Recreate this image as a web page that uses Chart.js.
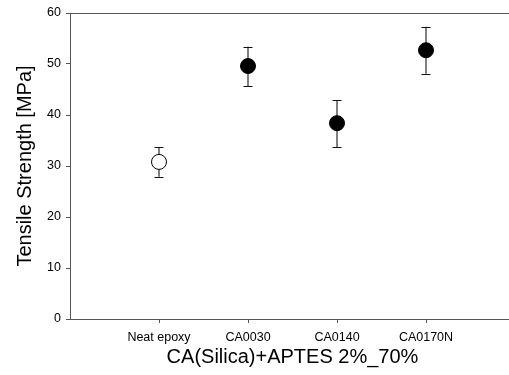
<!DOCTYPE html>
<html lang="en">
<head>
    <meta charset="UTF-8">
    <title>Tensile Strength</title>
    <script src="https://cdn.jsdelivr.net/npm/chart.js@4.4.1/dist/chart.umd.min.js"></script>
    <style>
        body { margin: 0; overflow: hidden; background: #fff; }
    </style>
</head>
<body>
    <canvas id="chart" width="515" height="375"></canvas>

    <script>
        const categories = ['Neat epoxy', 'CA0030', 'CA0140', 'CA0170N'];
        const strength = [30.8, 49.6, 38.4, 52.7];
        const errLow = [27.9, 45.7, 33.7, 48.1];
        const errHigh = [33.7, 53.4, 42.9, 57.3];
        const yTicks = [0, 10, 20, 30, 40, 50, 60];

        const axisColor = '#555';
        const font = 'Arial, "Liberation Sans", sans-serif';

        // vertical error bars, drawn under the markers
        const errorBars = {
            id: 'errorBars',
            beforeDatasetsDraw(chart) {
                const ctx = chart.ctx;
                const xs = chart.scales.x;
                const ys = chart.scales.y;
                ctx.save();
                categories.forEach((c, i) => {
                    const px = xs.getPixelForValue(i + 1);
                    const top = ys.getPixelForValue(errHigh[i]);
                    const bot = ys.getPixelForValue(errLow[i]);
                    ctx.strokeStyle = '#555';
                    ctx.lineWidth = 1.5;
                    ctx.beginPath();
                    ctx.moveTo(px, top);
                    ctx.lineTo(px, bot);
                    ctx.stroke();
                    ctx.strokeStyle = '#111';
                    ctx.lineWidth = 1;
                    ctx.beginPath();
                    ctx.moveTo(px - 4.5, Math.round(top) + 0.5);
                    ctx.lineTo(px + 4.5, Math.round(top) + 0.5);
                    ctx.moveTo(px - 4.5, Math.round(bot) + 0.5);
                    ctx.lineTo(px + 4.5, Math.round(bot) + 0.5);
                    ctx.stroke();
                });
                ctx.restore();
            }
        };

        // keep the horizontal axes from reserving room for edge labels
        const noSidePad = s => { s.paddingLeft = 0; s.paddingRight = 0; };

        new Chart(document.getElementById('chart'), {
            type: 'scatter',
            data: {
                datasets: [{
                    data: strength.map((v, i) => ({ x: i + 1, y: v })),
                    pointRadius: 7.5,
                    pointHoverRadius: 7.5,
                    pointBorderWidth: 1,
                    pointBorderColor: '#000',
                    pointBackgroundColor: strength.map((v, i) => i === 0 ? '#fff' : '#000')
                }]
            },
            options: {
                responsive: false,
                animation: false,
                layout: { autoPadding: false, padding: { top: 13, left: 0, right: 0, bottom: 0 } },
                plugins: {
                    legend: { display: false },
                    tooltip: { enabled: false }
                },
                scales: {
                    x: {
                        type: 'linear',
                        min: 0,
                        max: 5,
                        afterBuildTicks: s => { s.ticks = categories.map((c, i) => ({ value: i + 1 })); },
                        afterFit: s => { s.height = 56; noSidePad(s); },
                        grid: { drawOnChartArea: false, tickLength: 4, color: axisColor },
                        border: { color: axisColor, width: 1 },
                        ticks: {
                            autoSkip: false,
                            maxRotation: 0,
                            padding: 7,
                            color: '#000',
                            font: { family: font, size: 12.5 },
                            callback: v => categories[v - 1]
                        },
                        title: {
                            display: true,
                            text: 'CA(Silica)+APTES 2%_70%',
                            color: '#000',
                            font: { family: font, size: 20 },
                            padding: { top: 6, bottom: 6 }
                        }
                    },
                    x2: {
                        type: 'linear',
                        position: 'top',
                        min: 0,
                        max: 5,
                        afterFit: s => { s.height = 0; noSidePad(s); },
                        grid: { display: false },
                        border: { color: axisColor, width: 1 },
                        ticks: { display: false }
                    },
                    y: {
                        min: 0,
                        max: 60,
                        afterBuildTicks: s => { s.ticks = yTicks.map(v => ({ value: v })); },
                        afterFit: s => { s.width = 70; },
                        grid: { drawOnChartArea: false, tickLength: 4, color: axisColor },
                        border: { color: axisColor, width: 1 },
                        ticks: {
                            padding: 5,
                            color: '#000',
                            font: { family: font, size: 12.5 }
                        },
                        title: {
                            display: true,
                            text: 'Tensile Strength [MPa]',
                            color: '#000',
                            font: { family: font, size: 20 },
                            padding: { top: 13, bottom: 13 }
                        }
                    }
                }
            },
            plugins: [errorBars]
        });
    </script>
</body>
</html>
